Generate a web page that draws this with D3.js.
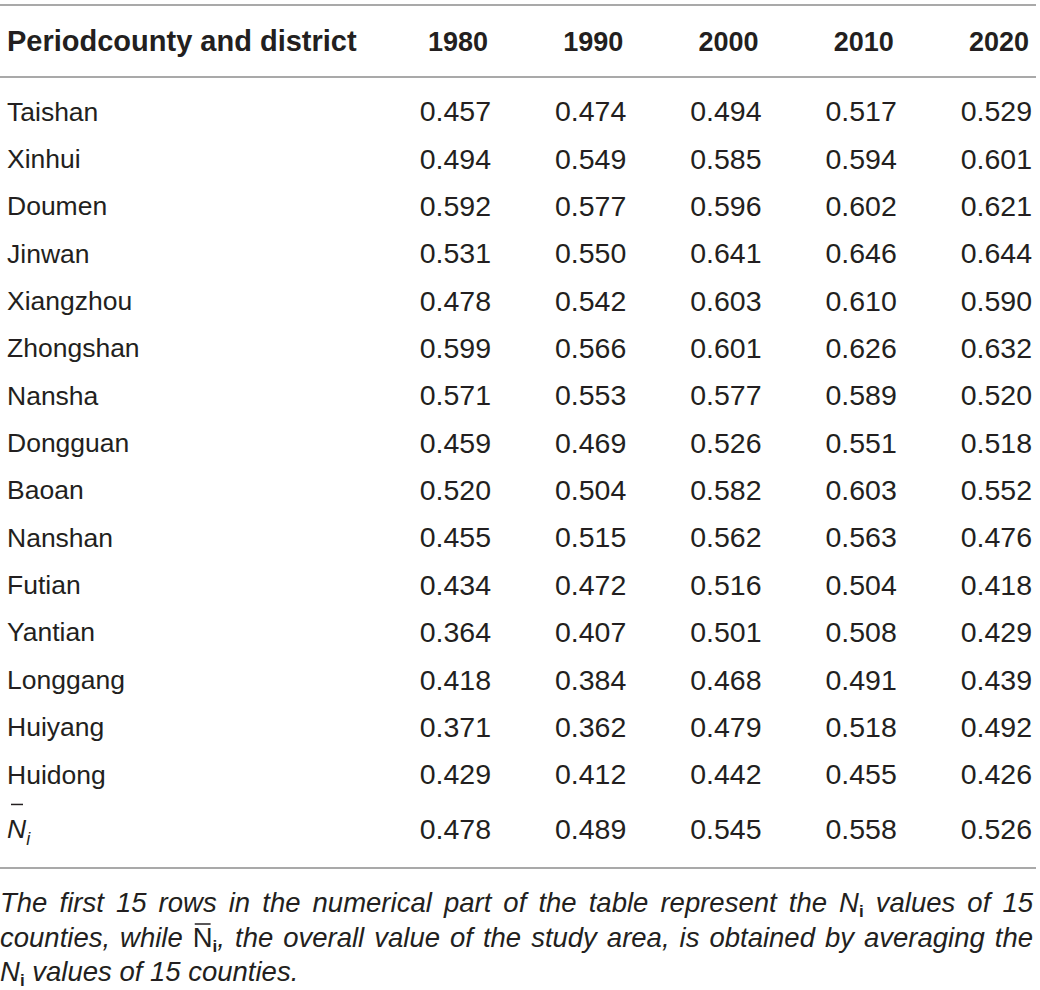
<html>
<head>
<script src="https://cdnjs.cloudflare.com/ajax/libs/d3/7.8.5/d3.min.js"></script>
<style>
body { margin: 0; background: #fff; }
svg { display: block; }
text { font-family: 'Liberation Sans', Arial, Helvetica, sans-serif; fill: #231f20; }
</style>
</head>
<body>
<div id="tbl"></div>
<script>

// table data
var counties = ["Taishan", "Xinhui", "Doumen", "Jinwan", "Xiangzhou", "Zhongshan", "Nansha",
  "Dongguan", "Baoan", "Nanshan", "Futian", "Yantian", "Longgang", "Huiyang", "Huidong"];
var years = ["1980", "1990", "2000", "2010", "2020"];

var v1980 = [0.457, 0.494, 0.592, 0.531, 0.478, 0.599, 0.571, 0.459, 0.520, 0.455, 0.434, 0.364, 0.418, 0.371, 0.429];
var v1990 = [0.474, 0.549, 0.577, 0.550, 0.542, 0.566, 0.553, 0.469, 0.504, 0.515, 0.472, 0.407, 0.384, 0.362, 0.412];
var v2000 = [0.494, 0.585, 0.596, 0.641, 0.603, 0.601, 0.577, 0.526, 0.582, 0.562, 0.516, 0.501, 0.468, 0.479, 0.442];
var v2010 = [0.517, 0.594, 0.602, 0.646, 0.610, 0.626, 0.589, 0.551, 0.603, 0.563, 0.504, 0.508, 0.491, 0.518, 0.455];
var v2020 = [0.529, 0.601, 0.621, 0.644, 0.590, 0.632, 0.520, 0.518, 0.552, 0.476, 0.418, 0.429, 0.439, 0.492, 0.426];
var meanRow = [0.478, 0.489, 0.545, 0.558, 0.526];

var headFirst = "Periodcounty and district";

var W = 1040, H = 990;
var svg = d3.select("#tbl").append("svg").attr("width", W).attr("height", H);

var fsLabel = 26.5, fsNum = 28.5, fsHead = 29, fsYear = 27;
var ruleColor = "#a9a9a9";
var fmt = d3.format(".3f");

// x = right edge of each year column, y = row centre
var x = d3.scalePoint().domain(years).range([491, 1032]);
var y = d3.scalePoint().domain(counties).range([111, 774]);
var meanY = y("Huidong") + y.step() * 1.15;

// rules
[5, 77, 868].forEach(function(ry) {
  svg.append("line")
    .attr("x1", 0).attr("x2", 1036)
    .attr("y1", ry).attr("y2", ry)
    .style("stroke", ruleColor).style("stroke-width", 2);
});

// header
svg.append("text")
  .attr("x", 7).attr("y", 41).attr("dy", "0.36em")
  .style("font-size", fsHead + "px").style("font-weight", "bold")
  .text(headFirst);
svg.selectAll(".yearhead")
  .data(years)
  .enter().append("text")
  .attr("class", "yearhead")
  .attr("x", function(d) { return x(d) - 3; })
  .attr("y", 41).attr("dy", "0.36em")
  .attr("text-anchor", "end")
  .style("font-size", fsYear + "px").style("font-weight", "bold")
  .text(function(d) { return d; });

// body rows
var series = [v1980, v1990, v2000, v2010, v2020];
var rows = counties.map(function(c, i) {
  return { name: c, vals: series.map(function(s) { return s[i]; }) };
});

var row = svg.selectAll(".row")
  .data(rows)
  .enter().append("g")
  .attr("class", "row")
  .attr("transform", function(d) { return "translate(0," + y(d.name) + ")"; });

row.append("text")
  .attr("x", 7).attr("dy", "0.36em")
  .style("font-size", fsLabel + "px")
  .text(function(d) { return d.name; });

row.selectAll(".cell")
  .data(function(d) { return d.vals; })
  .enter().append("text")
  .attr("class", "cell")
  .attr("x", function(d, j) { return x(years[j]); })
  .attr("dy", "0.36em")
  .attr("text-anchor", "end")
  .style("font-size", fsNum + "px")
  .text(function(d) { return fmt(d); });

// mean row: italic N with bar and subscript i
var mg = svg.append("g").attr("transform", "translate(0," + meanY + ")");
var nT = mg.append("text")
  .attr("x", 7).attr("dy", "0.36em")
  .style("font-size", fsLabel + "px").style("font-style", "italic");
nT.append("tspan").text("N");
nT.append("tspan").attr("dy", 7).style("font-size", "18px").text("i");
mg.append("line")
  .attr("x1", 11).attr("x2", 23)
  .attr("y1", -24).attr("y2", -24)
  .style("stroke", "#231f20").style("stroke-width", 1.5);
mg.selectAll(".cell")
  .data(meanRow)
  .enter().append("text")
  .attr("class", "cell")
  .attr("x", function(d, j) { return x(years[j]); })
  .attr("dy", "0.36em")
  .attr("text-anchor", "end")
  .style("font-size", fsNum + "px")
  .text(function(d) { return fmt(d); });

// footnote, justified by hand
// each word is a list of segments; sub = subscript upright i, bar = overbar
var noteLines = [
  "The first 15 rows in the numerical part of the table represent the".split(" ").map(function(w) { return [{t: w}]; })
    .concat([[{t: "N"}, {t: "i", sub: true}]])
    .concat("values of 15".split(" ").map(function(w) { return [{t: w}]; })),
  [[{t: "counties,"}], [{t: "while"}], [{t: "N", up: true, bar: true}, {t: "i", sub: true}, {t: ","}]]
    .concat("the overall value of the study area, is obtained by averaging the".split(" ").map(function(w) { return [{t: w}]; })),
  [[{t: "N"}, {t: "i", sub: true}]]
    .concat("values of 15 counties.".split(" ").map(function(w) { return [{t: w}]; }))
];
var noteBase = [912, 947, 981];
var nfs = 27.5;
var noteLeft = 0, noteRight = 1033;

noteLines.forEach(function(words, li) {
  var g = svg.append("g").attr("class", "note");
  var widths = [];
  var wgs = words.map(function(segs) {
    var wg = g.append("g");
    var cx = 0;
    segs.forEach(function(s) {
      var t = wg.append("text")
        .attr("x", cx)
        .attr("y", noteBase[li] + (s.sub ? 5 : 0))
        .style("font-size", (s.sub ? 17 : nfs) + "px")
        .style("font-style", (s.sub || s.up) ? "normal" : "italic")
        .style("font-weight", s.sub ? "bold" : "normal")
        .text(s.t);
      var w = t.node().getComputedTextLength();
      if (s.bar) {
        wg.append("line")
          .attr("x1", cx + 2).attr("x2", cx + w - 2)
          .attr("y1", noteBase[li] - 23).attr("y2", noteBase[li] - 23)
          .style("stroke", "#231f20").style("stroke-width", 1.5);
      }
      cx += w;
    });
    widths.push(cx);
    return wg;
  });
  var total = d3.sum(widths);
  var last = li === noteLines.length - 1;
  var gap = last ? nfs * 0.278 : (noteRight - noteLeft - total) / (words.length - 1);
  var px = noteLeft;
  wgs.forEach(function(wg, k) {
    wg.attr("transform", "translate(" + px + ",0)");
    px += widths[k] + gap;
  });
});

</script>
</body>
</html>
